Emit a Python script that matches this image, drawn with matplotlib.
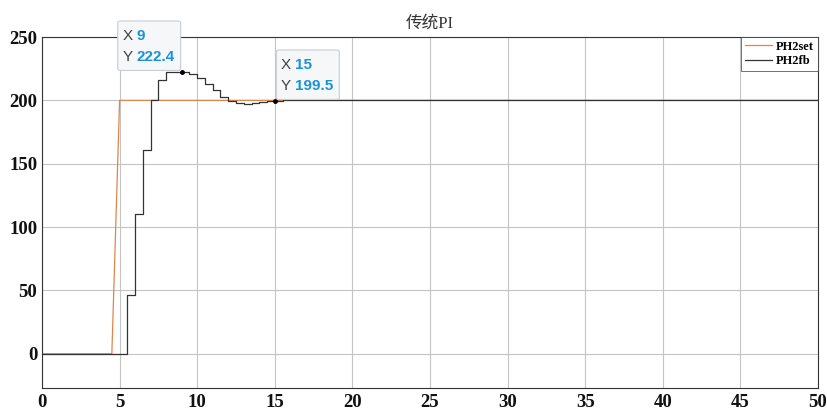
import numpy as np
import matplotlib.pyplot as plt
from matplotlib.patches import FancyBboxPatch

plt.rcParams['font.family'] = ['Liberation Serif', 'Noto Sans CJK SC', 'DejaVu Sans']

# setpoint samples (linear between samples)
t_set = [0, 4.5, 5.0, 50]
ph2set = [0, 0, 200, 200]

# feedback, zero-order hold with 0.5 s steps
t_fb = [0, 5.5, 6.0, 6.5, 7.0, 7.5, 8.0, 8.5, 9.0, 9.5, 10.0, 10.5, 11.0,
        11.5, 12.0, 12.5, 13.0, 13.5, 14.0, 14.5, 15.0, 15.5, 50]
ph2fb = [0, 46, 110, 161, 200, 216, 222, 222, 222.4, 221, 218, 213, 208,
         203, 199.5, 197.8, 197.5, 197.8, 198.5, 199.2, 199.5, 200, 200]

# data tips: (x, y, box on left side?)
tips = [(9, 222.4, True), (15, 199.5, False)]

W, H = 828, 412
fig = plt.figure(figsize=(W / 100, H / 100), dpi=100)
ax = fig.add_axes([42 / W, 1 - 388 / H, 776 / W, 351 / H])

ax.plot(t_set, ph2set, color='#e0854a', lw=0.9, label='PH2set')
ax.step(t_fb, ph2fb, where='post', color='#333333', lw=0.9, label='PH2fb')

ax.set_xlim(0, 50)
ax.set_ylim(-27, 250)
ax.set_xticks(np.arange(0, 51, 5))
ax.set_yticks(np.arange(0, 251, 50))
ax.grid(True, color='#c4c4c4', lw=0.8)
ax.set_axisbelow(True)
for s in ax.spines.values():
    s.set_color('#333333')
    s.set_linewidth(0.8)
ax.tick_params(axis='x', length=0, pad=4.5, labelsize=13.5)
ax.tick_params(axis='y', length=0, pad=3.5, labelsize=13.5)
for lab in ax.get_xticklabels() + ax.get_yticklabels():
    lab.set_fontweight('bold')
    lab.set_color('#111111')

ax.set_title('传统PI', fontsize=12, pad=7, color='#333333')

leg = ax.legend(loc='upper right', prop={'weight': 'bold', 'size': 9},
                frameon=True, fancybox=False, edgecolor='#333333',
                borderaxespad=0, handlelength=2.2, handletextpad=0.3,
                borderpad=0.3, labelspacing=0.2)
leg.get_frame().set_linewidth(0.6)


def to_fig(px, py):
    # pixel offsets measured from the top-left corner
    return px / W, 1 - py / H


for tx, ty, left in tips:
    ax.plot(tx, ty, 'o', color='black', ms=2.5, zorder=5)
    dx, dy = ax.transData.transform((tx, ty))
    px, py = dx, H - dy
    bx0 = px - 64 if left else px + 1.5
    by0 = py - 51
    bw, bh = 63, 49.5
    fx, fy = to_fig(bx0, by0 + bh)
    box = FancyBboxPatch((fx, fy), bw / W, bh / H, transform=fig.transFigure,
                         boxstyle='round,pad=0,rounding_size=0.004',
                         fc='#f5f7f9', ec='#c9cdd2', lw=0.8, zorder=10)
    fig.add_artist(box)
    for lab, val, ly in [('X', tx, 15), ('Y', ty, 36.5)]:
        fig.text(*to_fig(bx0 + 4.5, by0 + ly), lab, fontsize=11,
                 family='Liberation Sans', color='#404040', va='center',
                 zorder=11)
        fig.text(*to_fig(bx0 + 19, by0 + ly), str(val), fontsize=11,
                 family='Liberation Sans', fontweight='bold', color='#1a93d6',
                 va='center', zorder=11)

fig.savefig('out.png', dpi=100)
